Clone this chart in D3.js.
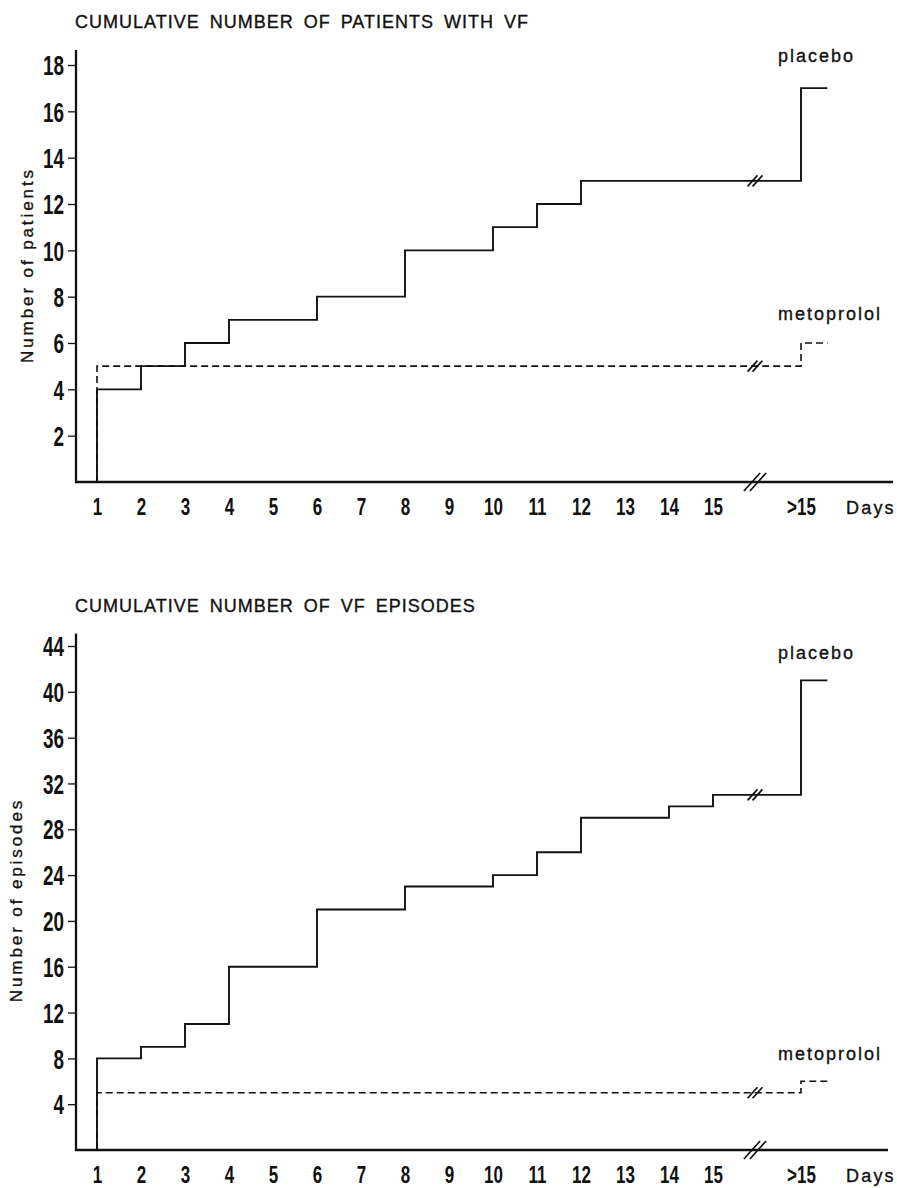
<!DOCTYPE html>
<html>
<head>
<meta charset="utf-8">
<script src="https://cdn.jsdelivr.net/npm/d3@7"></script>
<style>
  html, body { margin: 0; padding: 0; background: #fff; }
  svg { display: block; }
  text { font-family: "Liberation Sans", Arial, Helvetica, sans-serif; fill: #111; }
  .ink { stroke: #111; stroke-width: 0.35px; }
</style>
</head>
<body>
<svg id="chart" width="897" height="1188"></svg>
<script>
// Day categories along the x axis; ">15" sits after the axis break.
const dayLabels = ["1","2","3","4","5","6","7","8","9","10","11","12","13","14","15",">15"];

// Panel 1: cumulative number of patients with VF
const patientTicks = [2,4,6,8,10,12,14,16,18];
const placeboPatients    = [4,5,6,7,7,8,8,10,10,11,12,13,13,13,13,17];
const metoprololPatients = [5,5,5,5,5,5,5,5,5,5,5,5,5,5,5,6];

// Panel 2: cumulative number of VF episodes
const episodeTicks = [4,8,12,16,20,24,28,32,36,40,44];
const placeboEpisodes    = [8,9,11,16,16,21,21,23,23,24,26,29,29,30,31,41];
const metoprololEpisodes = [5,5,5,5,5,5,5,5,5,5,5,5,5,5,5,6];

const svg = d3.select("#chart");
const INK = "#111";

// day index on the x scale: 1..15, gap at 16 for the break, ">15" at 17
const dayIndex = i => (i < 15 ? i + 1 : 17);
const BREAK_AT = 16;
const LINE_END = 17.6;

const x = d3.scaleLinear().domain([1, 17]).range([97, 801]);
const AXIS_X = 76;

function breakMark(g, cx, cy, h, gap) {
  const dx = h * 0.45;
  [-gap / 2, gap / 2].forEach(off => {
    g.append("line")
      .attr("x1", cx + off - dx).attr("y1", cy + h / 2)
      .attr("x2", cx + off + dx).attr("y2", cy - h / 2)
      .attr("stroke", INK).attr("stroke-width", 1.7);
  });
}

function panel(cfg) {
  const g = svg.append("g");
  const y = d3.scaleLinear().domain([0, cfg.yMax]).range([cfg.y0, cfg.yMaxPx]);

  // title
  g.append("text")
    .attr("class", "ink")
    .attr("x", 75).attr("y", cfg.titleY)
    .attr("font-size", 18)
    .attr("letter-spacing", 1)
    .attr("word-spacing", 4)
    .text(cfg.title);

  // y axis title
  g.append("text")
    .attr("class", "ink")
    .attr("transform", `translate(${cfg.yTitleX},${cfg.yTitleY}) rotate(-90)`)
    .attr("text-anchor", "middle")
    .attr("font-size", 17)
    .attr("letter-spacing", 2.9)
    .text(cfg.yTitle);

  // y axis
  const yAxis = d3.axisLeft(y).tickValues(cfg.ticks).tickSize(8).tickPadding(3);
  const ya = g.append("g").attr("transform", `translate(${AXIS_X},0)`).call(yAxis);
  ya.select(".domain").remove();
  ya.selectAll(".tick line").attr("stroke", INK).attr("stroke-width", 1.3);
  const sy = 0.7;
  ya.selectAll(".tick text")
    .attr("font-size", 27).attr("font-weight", "bold")
    .attr("font-family", "'Liberation Sans', Arial, sans-serif")
    .attr("fill", INK)
    .attr("x", -12 / sy)
    .attr("dy", "0.36em")
    .attr("transform", `scale(${sy},1)`);
  g.append("line")
    .attr("x1", AXIS_X).attr("x2", AXIS_X)
    .attr("y1", cfg.y0 + 1).attr("y2", y(cfg.axisTop))
    .attr("stroke", INK).attr("stroke-width", 2.3);

  // x axis
  const xAxis = d3.axisBottom(x)
    .tickValues(dayLabels.map((d, i) => dayIndex(i)))
    .tickFormat((d, i) => dayLabels[i])
    .tickSize(0);
  const xa = g.append("g").attr("transform", `translate(0,${cfg.y0})`).call(xAxis);
  xa.select(".domain").remove();
  const sx = 0.74;
  xa.selectAll(".tick text")
    .attr("font-size", 23).attr("font-weight", "bold")
    .attr("font-family", "'Liberation Sans', Arial, sans-serif")
    .attr("fill", INK)
    .attr("y", 33).attr("dy", 0)
    .attr("transform", `scale(${sx},1)`);
  g.append("line")
    .attr("x1", AXIS_X - 1).attr("x2", cfg.axisRight)
    .attr("y1", cfg.y0).attr("y2", cfg.y0)
    .attr("stroke", INK).attr("stroke-width", 2.3);
  breakMark(g, x(BREAK_AT) - 2, cfg.y0, 18, 6);

  g.append("text")
    .attr("class", "ink")
    .attr("x", 846).attr("y", cfg.y0 + 32)
    .attr("font-size", 18)
    .attr("letter-spacing", 2.2)
    .text("Days");

  // step series
  const line = d3.line().x(d => x(d.x)).y(d => y(d.y)).curve(d3.curveStepAfter);
  const toPoints = vals => [{x: 1, y: 0}]
    .concat(vals.map((v, i) => ({x: dayIndex(i), y: v})))
    .concat([{x: LINE_END, y: vals[vals.length - 1]}]);

  g.append("path")
    .attr("d", line(toPoints(cfg.metoprolol)))
    .attr("fill", "none").attr("stroke", INK)
    .attr("stroke-width", 1.6).attr("stroke-dasharray", "7,4");
  g.append("path")
    .attr("d", line(toPoints(cfg.placebo)))
    .attr("fill", "none").attr("stroke", INK)
    .attr("stroke-width", 1.9);

  breakMark(g, x(BREAK_AT) - 2, y(cfg.placebo[14]), 11, 5);
  breakMark(g, x(BREAK_AT) - 2, y(cfg.metoprolol[14]), 11, 5);

  // series labels
  g.append("text")
    .attr("class", "ink")
    .attr("x", 778).attr("y", cfg.placeboLabelY)
    .attr("font-size", 18).attr("letter-spacing", 2)
    .text("placebo");
  g.append("text")
    .attr("class", "ink")
    .attr("x", 778).attr("y", cfg.metoLabelY)
    .attr("font-size", 18).attr("letter-spacing", 2)
    .text("metoprolol");
}

panel({
  title: "CUMULATIVE NUMBER OF PATIENTS WITH VF",
  titleY: 28,
  yTitle: "Number of patients",
  yTitleX: 33, yTitleY: 265,
  y0: 482, yMax: 18, yMaxPx: 65, axisTop: 18.65,
  ticks: patientTicks,
  axisRight: 893,
  placebo: placeboPatients,
  metoprolol: metoprololPatients,
  placeboLabelY: 62,
  metoLabelY: 320
});

panel({
  title: "CUMULATIVE NUMBER OF VF EPISODES",
  titleY: 612,
  yTitle: "Number of episodes",
  yTitleX: 22, yTitleY: 900,
  y0: 1150, yMax: 44, yMaxPx: 646, axisTop: 45.1,
  ticks: episodeTicks,
  axisRight: 888,
  placebo: placeboEpisodes,
  metoprolol: metoprololEpisodes,
  placeboLabelY: 659,
  metoLabelY: 1060
});
</script>
</body>
</html>
